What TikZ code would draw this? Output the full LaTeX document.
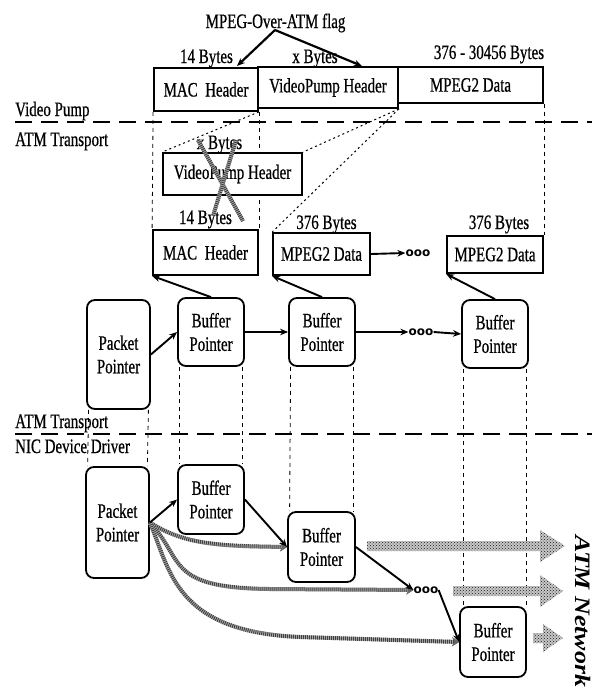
\documentclass[tikz,border=0pt]{standalone}
\usepackage{fontspec}
\setmainfont{Liberation Serif}[FakeStretch=0.73,FakeBold=0.6]
\newfontfamily\netfont{Liberation Serif}[FakeStretch=1.18]
\newfontfamily\dotfont{DejaVu Sans}
\usetikzlibrary{arrows.meta,patterns,calc}
\pgfdeclarelayer{bg}
\pgfsetlayers{bg,main}
\newcommand\mytxt{\fontsize{20.5}{23.5}\selectfont}
\begin{document}
\begin{tikzpicture}[x=1pt,y=-1pt,
  box/.style={draw,line width=1.8pt,fill=white,inner sep=0pt,font=\mytxt,align=center},
  rbox/.style={box,rounded corners=8pt},
  lbl/.style={font=\mytxt,inner sep=0pt,anchor=base},
  side/.style={font=\mytxt,inner sep=0pt,anchor=base west},
  arr/.style={-{Stealth[length=8pt,width=6.5pt]},line width=1.9pt},
  guide/.style={dash pattern=on 4pt off 4pt,line width=0.8pt},
  divider/.style={dash pattern=on 17pt off 9pt,line width=1.4pt},
  dotl/.style={dash pattern=on 2pt off 3pt,line width=1pt},
  hatch/.style={preaction={draw=black!30,line width=4pt,solid},line width=4pt,draw=black!75,dash pattern=on 1pt off 1pt},
  hatchtip/.style={-{Stealth[length=7pt,width=9pt,color=black!60]}},
  dots/.style={font=\dotfont\bfseries\fontsize{12}{12}\selectfont,inner sep=0pt},
  bigarrow/.style={preaction={fill=black!22},pattern=crosshatch dots,pattern color=black!90}
]
\useasboundingbox (0,0) rectangle (592,688);

% ---------- top: Video Pump frame ----------
\node[lbl] (flag) at (275.5,28) {MPEG-Over-ATM flag};
\node[lbl] (b14a) at (206.5,63) {14 Bytes};
\node[lbl] (bxa) at (315,63) {x Bytes};
\node[lbl] (b376a) at (489,59) {376 - 30456 Bytes};
\node[box,minimum width=104,minimum height=43] (mac1) at (206,89.5) {MAC\ \ Header};
\node[box,minimum width=140,minimum height=41] (vp1) at (328,87.5) {VideoPump Header};
\node[box,minimum width=145,minimum height=36] (mpg1) at (470.5,85) {MPEG2 Data};
\coordinate (fa) at (275,30);
\coordinate (fl) at (237,66);
\coordinate (fr) at (362,66);
\draw[arr,line width=2.2pt] (fa) -- (fl);
\draw[arr,line width=2.2pt] (fa) -- (fr);

% dividers and side labels
\node[side] (vpump) at (15,116) {Video Pump};
\node[side] (atm1) at (15,146) {ATM Transport};
\coordinate (dv1a) at (15,122);
\coordinate (dv1b) at (592,122);
\draw[divider] (dv1a) -- (dv1b);

% ---------- ATM transport: buffers ----------
\node[lbl] (bxb) at (219.5,149) {x Bytes};
\node[box,minimum width=139,minimum height=42] (vp2) at (232.5,174) {VideoPump Header};
\node[lbl] (b14b) at (205.5,224) {14 Bytes};
\node[lbl] (b376b) at (326.5,229) {376 Bytes};
\node[lbl] (b376c) at (499,229) {376 Bytes};
\node[box,minimum width=105,minimum height=45] (mac2) at (205.5,252.5) {MAC\ \ Header};
\node[box,minimum width=97,minimum height=42] (mpg2) at (321.5,254) {MPEG2 Data};
\node[dots] (d0) at (418,253) {ooo};
\node[box,minimum width=96,minimum height=37] (mpg3) at (495,254.5) {MPEG2 Data};
\draw[arr] (mpg2.east) -- (d0.west);

% crossed-out header
\coordinate (xa1) at (198,140);
\coordinate (xa2) at (243,221);
\coordinate (xb1) at (236,140);
\coordinate (xb2) at (213,216);
\draw[hatch] (xa1) -- (xa2);
\draw[hatch] (xb1) -- (xb2);

\node[rbox,minimum width=63,minimum height=109] (pp1) at (118.5,354.5) {Packet\\Pointer};
\node[rbox,minimum width=66,minimum height=68] (bp1) at (211,332) {Buffer\\Pointer};
\node[rbox,minimum width=66,minimum height=68] (bp2) at (322,332) {Buffer\\Pointer};
\node[dots] (d1) at (421,332) {ooo};
\node[rbox,minimum width=66,minimum height=68] (bp3) at (495,334) {Buffer\\Pointer};

\draw[arr] (pp1.east) -- (bp1.west);
\draw[arr] (bp1.east) -- (bp2.west);
\draw[arr] (bp2.east) -- (d1.west);
\draw[arr] (d1.east) -- (bp3.west);
\draw[arr] (bp1.north) -- (mac2.south west);
\draw[arr] (bp2.north) -- (mpg2.south west);
\draw[arr] (bp3.north) -- (mpg3.south west);

\node[side] (atm2) at (15,428) {ATM Transport};
\node[side] (nic) at (15,453) {NIC Device Driver};
\coordinate (dv2a) at (15,434);
\coordinate (dv2b) at (592,434);
\draw[divider] (dv2a) -- (dv2b);

% ---------- NIC device driver ----------
\node[rbox,minimum width=63,minimum height=111] (pp2) at (117.5,522.5) {Packet\\Pointer};
\node[rbox,minimum width=66,minimum height=69] (bq1) at (211,499.5) {Buffer\\Pointer};
\node[rbox,minimum width=67,minimum height=70] (bq2) at (321.5,547) {Buffer\\Pointer};
\node[dots] (d2) at (426,590) {ooo};
\node[rbox,minimum width=66,minimum height=70] (bq3) at (493,642) {Buffer\\Pointer};

\draw[hatch,hatchtip] (pp2.east) .. controls (185,545) and (220,546) .. (bq2.west);
\draw[hatch,hatchtip] (pp2.east) .. controls (185,560) and (165,588) .. (270,589) -- (d2.west);
\draw[hatch,hatchtip] (pp2.east) .. controls (170,570) and (175,632) .. (300,637) -- (bq3.west);

\draw[arr] (pp2.east) -- (bq1.west);
\draw[arr] (bq1.east) -- (bq2.west);
\draw[arr] (bq2.east) -- (d2.west);
\draw[arr] (d2.east) -- (bq3.west);

% big hatched arrows toward the network
\fill[bigarrow] (367,541) -- (540,541) -- (540,530) -- (565,546) -- (540,562) -- (540,551) -- (367,551) -- cycle;
\fill[bigarrow] (453,586) -- (540,586) -- (540,575) -- (563,591) -- (540,607) -- (540,596) -- (453,596) -- cycle;
\fill[bigarrow] (533,633) -- (543,633) -- (543,624) -- (563,638) -- (543,652) -- (543,643) -- (533,643) -- cycle;

\node[rotate=-90,anchor=base west,inner sep=0pt,font=\netfont\bfseries\itshape\fontsize{22}{26}\selectfont] (net) at (575,535) {ATM Network};

% ---------- background guides ----------
\begin{pgfonlayer}{bg}
\draw[guide] (mac1.south west) -- (mac2.north west);
\draw[guide] (mac1.south east) -- (mac2.north east);
\draw[guide] (mpg1.south east) -- (mpg3.north east);
\draw[dotl] (mac1.south east) -- (vp2.north west);
\draw[dotl] (vp1.south east) -- (vp2.north east);
\draw[dotl] (vp1.south east) -- (mpg2.north west);
\draw[guide] ($(pp1.south west)+(2.5,0)$) -- ($(pp2.north west)+(2.5,0)$);
\draw[guide] ($(pp1.south east)+(-2.5,0)$) -- ($(pp2.north east)+(-2.5,0)$);
\draw[guide] ($(bp1.south west)+(2.5,0)$) -- ($(bq1.north west)+(2.5,0)$);
\draw[guide] ($(bp1.south east)+(-2.5,0)$) -- ($(bq1.north east)+(-2.5,0)$);
\draw[guide] ($(bp2.south west)+(2.5,0)$) -- ($(bq2.north west)+(2.5,0)$);
\draw[guide] ($(bp2.south east)+(-2.5,0)$) -- ($(bq2.north east)+(-2.5,0)$);
\draw[guide] ($(bp3.south west)+(2.5,0)$) -- ($(bq3.north west)+(4.5,0)$);
\draw[guide] ($(bp3.south east)+(-2.5,0)$) -- ($(bq3.north east)+(-0.5,0)$);
\end{pgfonlayer}
\end{tikzpicture}
\end{document}
